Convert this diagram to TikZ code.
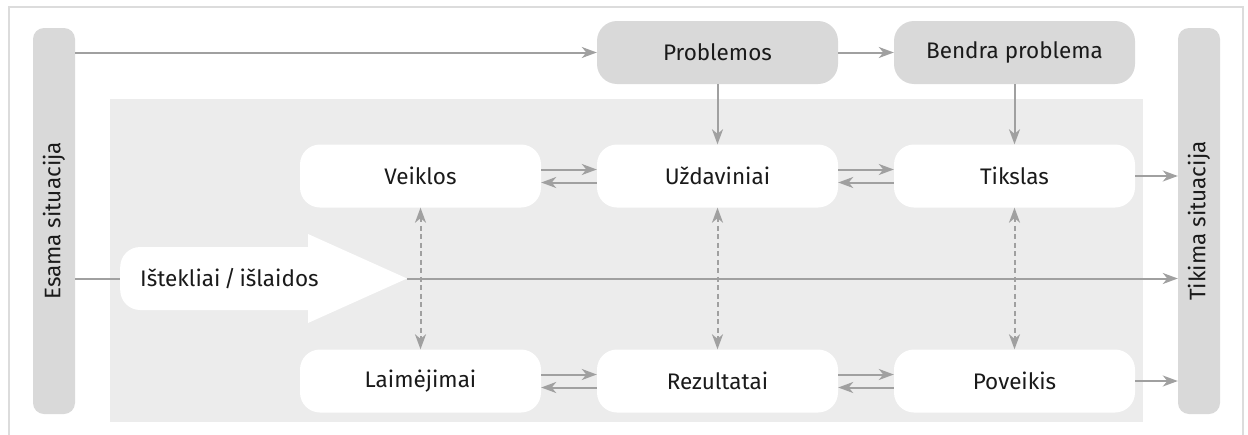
\documentclass[tikz,border=0pt]{standalone}
\usepackage{fontspec}
\IfFontExistsTF{Fira Sans Book}{\setmainfont{Fira Sans Book}}{\setmainfont{Fira Sans}}
\usetikzlibrary{arrows.meta}
\definecolor{framec}{HTML}{DCDCDC}
\definecolor{bgc}{HTML}{ECECEC}
\definecolor{boxc}{HTML}{D9D9D9}
\definecolor{arrc}{HTML}{A0A0A0}
\definecolor{txtc}{HTML}{1A1A1A}
\tikzset{
  lbl/.style={font=\fontsize{22.5}{24}\selectfont, text=txtc},
  graybox/.style={lbl, fill=boxc, rounded corners=20pt, minimum width=241pt, minimum height=63pt, inner sep=0pt},
  whitebox/.style={lbl, fill=white, rounded corners=20pt, minimum width=241pt, minimum height=63pt, inner sep=0pt},
  bar/.style={fill=boxc, rounded corners=11pt, minimum width=42pt, minimum height=386pt, inner sep=0pt},
  arr/.style={draw=arrc, line width=2pt, -{Stealth[length=15pt,width=11pt,inset=4.5pt]}},
  darr/.style={arr, {Stealth[length=15pt,width=11pt,inset=4.5pt]}-{Stealth[length=15pt,width=11pt,inset=4.5pt]}, dash pattern=on 5pt off 3.5pt},
  ln/.style={draw=arrc, line width=2pt}
}
\begin{document}
\begin{tikzpicture}[x=1pt,y=-1pt]
\useasboundingbox (0,0) rectangle (1248,434);
\draw[framec, line width=2pt] (9,436) -- (9,7) -- (1243,7) -- (1243,436);
\fill[bgc] (110,99) rectangle (1143,422);

\node[bar, label={[lbl, rotate=90]center:Esama situacija}] (es) at (54,221) {};
\node[bar, label={[lbl, rotate=90]center:Tikima situacija}] (ti) at (1199,221) {};

\node[graybox] (pr) at (717.5,52.5) {Problemos};
\node[graybox] (bp) at (1014.5,52.5) {Bendra problema};

\node[whitebox] (ve) at (420.5,176) {Veiklos};
\node[whitebox] (uz) at (717.5,176) {Uždaviniai};
\node[whitebox] (tk) at (1014.5,176) {Tikslas};

\node[whitebox] (la) at (420.5,381) {Laimėjimai};
\node[whitebox] (re) at (717.5,381) {Rezultatai};
\node[whitebox] (po) at (1014.5,381) {Poveikis};

% resources arrow shape
\fill[white] (308,234) -- (407,278.5) -- (308,323) -- cycle;
\node[whitebox, minimum width=208pt, anchor=west, text width=200pt, align=left] (ist) at (120,278.5) {\hspace*{16pt}Ištekliai\,/\,išlaidos};
\coordinate (tip) at (407,278.5);

% top row
\draw[arr] (es.east |- pr) -- (pr);
\draw[arr] (pr) -- (bp);
\draw[arr] (pr) -- (uz);
\draw[arr] (bp) -- (tk);

% middle row
\draw[arr] ([yshift=6.5pt]ve.east) -- ([yshift=6.5pt]uz.west);
\draw[arr] ([yshift=-6.5pt]uz.west) -- ([yshift=-6.5pt]ve.east);
\draw[arr] ([yshift=6.5pt]uz.east) -- ([yshift=6.5pt]tk.west);
\draw[arr] ([yshift=-6.5pt]tk.west) -- ([yshift=-6.5pt]uz.east);
\draw[arr] (tk.east) -- (tk.east -| ti.west);

% bottom row
\draw[arr] ([yshift=6.5pt]la.east) -- ([yshift=6.5pt]re.west);
\draw[arr] ([yshift=-6.5pt]re.west) -- ([yshift=-6.5pt]la.east);
\draw[arr] ([yshift=6.5pt]re.east) -- ([yshift=6.5pt]po.west);
\draw[arr] ([yshift=-6.5pt]po.west) -- ([yshift=-6.5pt]re.east);
\draw[arr] (po.east) -- (po.east -| ti.west);

% main line
\draw[ln] (es.east |- ist.west) -- (ist.west);
\draw[arr] (tip) -- (tip -| ti.west);

% dashed verticals
\draw[darr] (ve.south) -- (la.north);
\draw[darr] (uz.south) -- (re.north);
\draw[darr] (tk.south) -- (po.north);
\end{tikzpicture}
\end{document}
